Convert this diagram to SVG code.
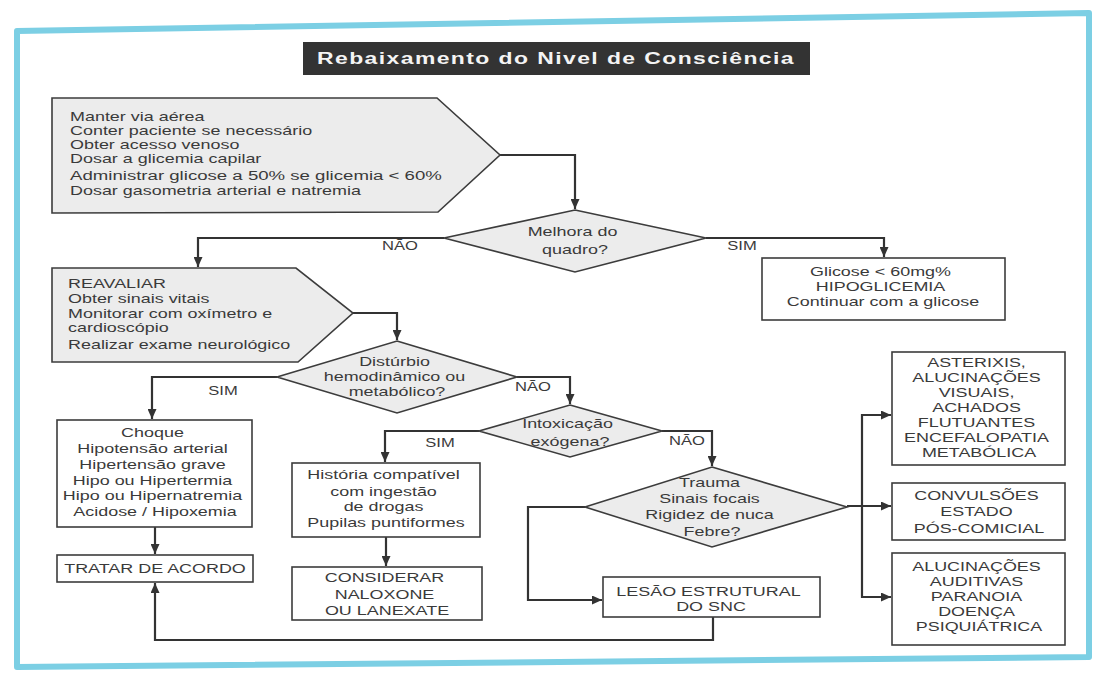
<svg xmlns="http://www.w3.org/2000/svg" width="1101" height="675" viewBox="0 0 1101 675">
  <defs>
    <marker id="arrow" markerWidth="10" markerHeight="9" refX="10" refY="4.5" orient="auto" markerUnits="userSpaceOnUse">
      <path d="M0,0 L10,4.5 L0,9 z" fill="#333"/>
    </marker>
    <style>
      .frame { fill: none; stroke: #7ccfe4; stroke-width: 6; stroke-linejoin: round; }
      .box { fill: #fff; stroke: #3c3c3c; stroke-width: 1.6; }
      .shape { fill: #ececec; stroke: #3c3c3c; stroke-width: 1.6; }
      .link { fill: none; stroke: #333; stroke-width: 2.2; marker-end: url(#arrow); }
      .t { font-family: "Liberation Sans", Arial, sans-serif; font-size: 13px; fill: #3a3a3a; }
      .lbl { font-family: "Liberation Sans", Arial, sans-serif; font-size: 12px; fill: #3a3a3a; }
      .mid { text-anchor: middle; }
    </style>
  </defs>

  <rect width="1101" height="675" fill="#fff"/>
  <!-- outer cyan frame -->
  <polygon class="frame" points="17,31 1089,13 1089,657 17,667"/>

  <!-- title bar -->
  <g id="title">
    <rect x="303" y="42" width="507" height="33" fill="#333"/>
    <text x="556" y="64" font-family="'Liberation Sans', Arial, sans-serif" font-size="16" font-weight="bold" letter-spacing="1" fill="#f4f4f4" text-anchor="middle" textLength="478" lengthAdjust="spacingAndGlyphs">Rebaixamento do Nivel de Consciência</text>
  </g>

  <!-- connectors -->
  <g id="connectors">
    <path class="link" d="M500,155 H575 V209"/>
    <path class="link" d="M444,238 H198 V267"/>
    <path class="link" d="M706,238 H884 V257"/>
    <path class="link" d="M353,313 H397 V340"/>
    <path class="link" d="M277,377 H152 V419"/>
    <path class="link" d="M155,527 V554"/>
    <path class="link" d="M517,377 H570 V404"/>
    <path class="link" d="M479,431 H385 V462"/>
    <path class="link" d="M386,537 V566"/>
    <path class="link" d="M662,431 H712 V466"/>
    <path class="link" d="M585,507 H528 V600 H602"/>
    <path class="link" d="M713,617 V640 H155 V583"/>
    <path class="link" d="M847,506 H891"/>
    <path class="link" d="M862,506 V415 H891"/>
    <path class="link" d="M862,506 V597 H891"/>
    <text class="lbl mid" transform="translate(400 0) scale(1.38 1)" x="0" y="250">NÃO</text>
    <text class="lbl mid" transform="translate(742 0) scale(1.38 1)" x="0" y="250">SIM</text>
    <text class="lbl mid" transform="translate(223 0) scale(1.38 1)" x="0" y="395">SIM</text>
    <text class="lbl mid" transform="translate(533 0) scale(1.38 1)" x="0" y="391">NÃO</text>
    <text class="lbl mid" transform="translate(440 0) scale(1.38 1)" x="0" y="447">SIM</text>
    <text class="lbl mid" transform="translate(687 0) scale(1.38 1)" x="0" y="445">NÃO</text>
  </g>

  <!-- first actions -->
  <g id="acoes-iniciais">
    <polygon class="shape" points="52,98 437,98 500,155 438,212 52,213"/>
    <text class="t" transform="translate(70 0) scale(1.38 1)">
      <tspan x="0" y="121">Manter via aérea</tspan>
      <tspan x="0" y="135">Conter paciente se necessário</tspan>
      <tspan x="0" y="149">Obter acesso venoso</tspan>
      <tspan x="0" y="163">Dosar a glicemia capilar</tspan>
      <tspan x="0" y="180" font-size="13.5">Administrar glicose a 50% se glicemia &lt; 60%</tspan>
      <tspan x="0" y="195">Dosar gasometria arterial e natremia</tspan>
    </text>
  </g>

  <g id="melhora">
    <polygon class="shape" points="575,210 706,238 575,272 444,238"/>
    <text class="t mid" transform="translate(575 0) scale(1.38 1)">
      <tspan x="0" y="236">Melhora do</tspan>
      <tspan x="0" y="254">quadro?</tspan>
    </text>
  </g>

  <g id="hipoglicemia">
    <rect class="box" x="762" y="258" width="243" height="62"/>
    <text class="t mid" transform="translate(883 0) scale(1.38 1)">
      <tspan x="0" y="276">Glicose &lt; 60mg%</tspan>
      <tspan x="0" y="291">HIPOGLICEMIA</tspan>
      <tspan x="0" y="306">Continuar com a glicose</tspan>
    </text>
  </g>

  <g id="reavaliar">
    <polygon class="shape" points="52,268 296,268 353,313 298,362 52,362"/>
    <text class="t" transform="translate(68 0) scale(1.38 1)">
      <tspan x="0" y="288">REAVALIAR</tspan>
      <tspan x="0" y="303">Obter sinais vitais</tspan>
      <tspan x="0" y="318">Monitorar com oxímetro e</tspan>
      <tspan x="0" y="332">cardioscópio</tspan>
      <tspan x="0" y="349">Realizar exame neurológico</tspan>
    </text>
  </g>

  <g id="disturbio">
    <polygon class="shape" points="397,341 517,377 397,413 277,377"/>
    <text class="t mid" transform="translate(397 0) scale(1.38 1)">
      <tspan x="0" y="366">Distúrbio</tspan>
      <tspan x="0" y="381">hemodinâmico ou</tspan>
      <tspan x="0" y="396">metabólico?</tspan>
    </text>
  </g>

  <g id="choque">
    <rect class="box" x="57" y="420" width="195" height="107"/>
    <text class="t mid" transform="translate(155 0) scale(1.38 1)">
      <tspan x="0" y="437">Choque</tspan>
      <tspan x="0" y="453">Hipotensão arterial</tspan>
      <tspan x="0" y="469">Hipertensão grave</tspan>
      <tspan x="0" y="485">Hipo ou Hipertermia</tspan>
      <tspan x="0" y="500">Hipo ou Hipernatremia</tspan>
      <tspan x="0" y="516">Acidose / Hipoxemia</tspan>
    </text>
  </g>

  <g id="tratar">
    <rect class="box" x="57" y="555" width="196" height="27"/>
    <text class="t mid" transform="translate(155 0) scale(1.38 1)" x="0" y="573">TRATAR DE ACORDO</text>
  </g>

  <g id="intoxicacao">
    <polygon class="shape" points="570,405 662,431 570,457 479,431"/>
    <text class="t mid" transform="translate(570 0) scale(1.38 1)">
      <tspan x="0" y="428">Intoxicação</tspan>
      <tspan x="0" y="446">exógena?</tspan>
    </text>
  </g>

  <g id="historia">
    <rect class="box" x="292" y="463" width="188" height="74"/>
    <text class="t mid" transform="translate(386 0) scale(1.38 1)">
      <tspan x="0" y="479">História compatível</tspan>
      <tspan x="0" y="496">com ingestão</tspan>
      <tspan x="0" y="511">de drogas</tspan>
      <tspan x="0" y="527">Pupilas puntiformes</tspan>
    </text>
  </g>

  <g id="considerar">
    <rect class="box" x="292" y="567" width="190" height="53"/>
    <text class="t mid" transform="translate(387 0) scale(1.38 1)">
      <tspan x="0" y="582">CONSIDERAR</tspan>
      <tspan x="0" y="599">NALOXONE</tspan>
      <tspan x="0" y="615">OU LANEXATE</tspan>
    </text>
  </g>

  <g id="trauma">
    <polygon class="shape" points="712,467 847,507 712,547 585,507"/>
    <text class="t mid" transform="translate(712 0) scale(1.38 1)">
      <tspan x="0" y="487">Trauma</tspan>
      <tspan x="0" y="503">Sinais focais</tspan>
      <tspan x="0" y="519">Rigidez de nuca</tspan>
      <tspan x="0" y="536">Febre?</tspan>
    </text>
  </g>

  <g id="lesao">
    <rect class="box" x="603" y="577" width="217" height="40"/>
    <text class="t mid" transform="translate(711 0) scale(1.38 1)">
      <tspan x="0" y="596">LESÃO ESTRUTURAL</tspan>
      <tspan x="0" y="611">DO SNC</tspan>
    </text>
  </g>

  <g id="metabolica">
    <rect class="box" x="892" y="352" width="173" height="113"/>
    <text class="t mid" transform="translate(979 0) scale(1.38 1)">
      <tspan x="0" y="367">ASTERIXIS,</tspan>
      <tspan x="0" y="382">ALUCINAÇÕES</tspan>
      <tspan x="0" y="397">VISUAIS,</tspan>
      <tspan x="0" y="412">ACHADOS</tspan>
      <tspan x="0" y="427">FLUTUANTES</tspan>
      <tspan x="0" y="442">ENCEFALOPATIA</tspan>
      <tspan x="0" y="457">METABÓLICA</tspan>
    </text>
  </g>

  <g id="convulsoes">
    <rect class="box" x="892" y="483" width="173" height="57"/>
    <text class="t mid" transform="translate(979 0) scale(1.38 1)">
      <tspan x="0" y="500">CONVULSÕES</tspan>
      <tspan x="0" y="516">ESTADO</tspan>
      <tspan x="0" y="533">PÓS-COMICIAL</tspan>
    </text>
  </g>

  <g id="psiquiatrica">
    <rect class="box" x="892" y="553" width="173" height="92"/>
    <text class="t mid" transform="translate(979 0) scale(1.38 1)">
      <tspan x="0" y="571">ALUCINAÇÕES</tspan>
      <tspan x="0" y="586">AUDITIVAS</tspan>
      <tspan x="0" y="601">PARANOIA</tspan>
      <tspan x="0" y="616">DOENÇA</tspan>
      <tspan x="0" y="631">PSIQUIÁTRICA</tspan>
    </text>
  </g>
</svg>
